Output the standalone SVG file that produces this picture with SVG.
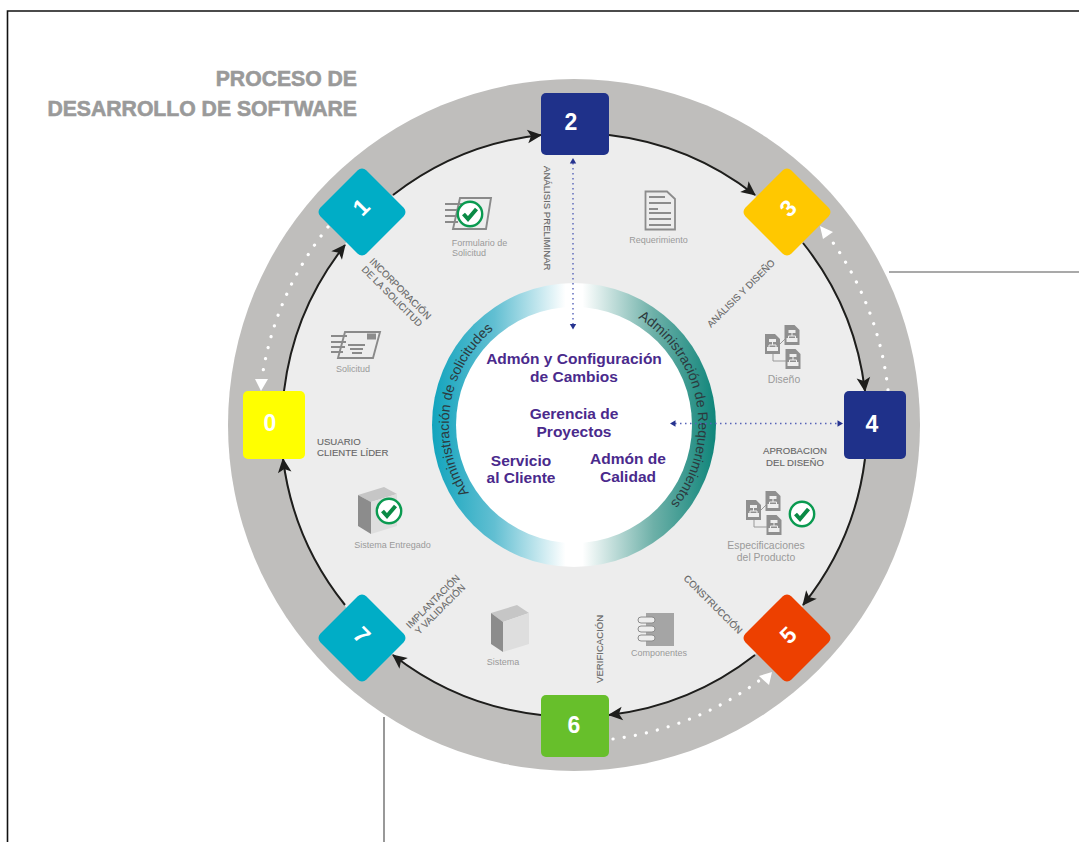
<svg xmlns="http://www.w3.org/2000/svg" width="1079" height="842" viewBox="0 0 1079 842">
<style>
text{font-family:"Liberation Sans",Arial,sans-serif}
.title{font-size:21.2px;font-weight:bold;fill:#9a9a9a;stroke:#9a9a9a;stroke-width:.6;text-anchor:end}
.num{font-size:23px;font-weight:bold;fill:#fff;text-anchor:middle;dominant-baseline:central}
.step{font-size:9.6px;fill:#666;stroke:#666;stroke-width:.12}
.art{font-size:9px;fill:#9a9a9a;text-anchor:middle}
.big{font-size:10.4px}
.core{font-size:15.5px;font-weight:bold;fill:#4a2a8c;text-anchor:middle}
.ringt{font-size:14px;fill:#2c3a3e}
.blk{fill:none;stroke:#1e1e1c;stroke-width:2}
.dot{fill:none;stroke:#fff;stroke-width:3.2;stroke-linecap:round;stroke-dasharray:.1 11.2}
.blue{fill:none;stroke:#5663b8;stroke-width:1.4;stroke-dasharray:1.5 3.5}
.ln{stroke:#555;stroke-width:1.2;fill:none}
.ig{fill:none;stroke:#8a8a8a;stroke-width:1.9}
</style>
<defs>
<linearGradient id="ringg" gradientUnits="userSpaceOnUse" x1="432" y1="0" x2="716" y2="0">
<stop offset="0" stop-color="#12a4bd"/><stop offset=".22" stop-color="#62bfd2"/><stop offset=".47" stop-color="#fff"/><stop offset=".53" stop-color="#fff"/><stop offset=".78" stop-color="#6db0a8"/><stop offset="1" stop-color="#0f857a"/>
</linearGradient>
<marker id="ah" markerUnits="userSpaceOnUse" markerWidth="17" markerHeight="16" viewBox="0 -8 16 16" refX="13.5" refY="0" orient="auto"><path d="M0,-6.8L14.5,0L0,6.8L3.5,0z" fill="#1e1e1c"/></marker>
<path id="bt" d="M0,-3.2L5.5,0L0,3.2z" fill="#26338f"/>
<path id="rpl" d="M469,493A125,125 0 0 1 574,300"/>
<path id="rpr" d="M638,318A125,125 0 0 1 620,541"/>
<g id="check"><circle r="12.2" fill="#fff" stroke="#0a9a50" stroke-width="2.4"/><path d="M-6.5,0L-2,5L6.5,-5" fill="none" stroke="#0a8a45" stroke-width="4"/></g>
<g id="doc"><path d="M0,0H10L15,5V20H0z" fill="#8f8f8f"/><rect x="4" y="5" width="7" height="3" fill="#eee"/><rect x="2" y="13" width="11" height="4" fill="#eee"/><path d="M4,11H11M4,11V13M11,11V13M7.500,8V11" stroke="#eee" fill="none"/></g>
<g id="docs"><use href="#doc" x="0" y="9"/><use href="#doc" x="19.500" y="0"/><use href="#doc" x="20.500" y="24"/><path d="M15,19L20,14M8,29V36H21" fill="none" stroke="#999" stroke-width="1"/></g>
</defs>
<rect width="1079" height="842" fill="#fff"/>
<path d="M7.500,842V11H1079" fill="none" stroke="#111" stroke-width="1.600"/>
<g id="title"><text class="title" x="357" y="86">PROCESO DE</text><text class="title" x="357" y="116">DESARROLLO DE SOFTWARE</text></g>
<g id="wheel">
<circle cx="574" cy="425" r="346" fill="#bfbebc"/>
<circle cx="574" cy="425" r="292" fill="#ededed"/>
<circle cx="574" cy="425" r="142" fill="url(#ringg)"/>
<circle cx="574" cy="425" r="118" fill="#fff"/>
<text class="ringt"><textPath href="#rpl">Administración de solicitudes</textPath></text>
<text class="ringt"><textPath href="#rpr">Administración de Requerimientos</textPath></text>
</g>
<path class="ln" d="M889,272H1079M384,717V842"/>
<g id="connectors">
<path class="blk" marker-end="url(#ah)" d="M284,391A292,292 0 0 1 345,245"/>
<path class="blk" marker-end="url(#ah)" d="M393,195A292,292 0 0 1 541,135"/>
<path class="blk" marker-end="url(#ah)" d="M609,135A292,292 0 0 1 755,195"/>
<path class="blk" marker-end="url(#ah)" d="M803,243A292,292 0 0 1 865,391"/>
<path class="blk" marker-end="url(#ah)" d="M865,459A292,292 0 0 1 803,605"/>
<path class="blk" marker-end="url(#ah)" d="M755,655A292,292 0 0 1 609,715"/>
<path class="blk" marker-end="url(#ah)" d="M541,715A292,292 0 0 1 393,655"/>
<path class="blk" marker-end="url(#ah)" d="M345,605A292,292 0 0 1 283,459"/>
<path class="dot" d="M328,227A316,316 0 0 0 262,378"/><path d="M255,379H268L261,391z" fill="#fff"/>
<path class="dot" d="M888,390A316,316 0 0 0 829,237"/><path d="M820,226L833,232L823,239z" fill="#fff"/>
<path class="dot" d="M613,739A316,316 0 0 0 760,680"/><path d="M772,672L769,685L759,676z" fill="#fff"/>
<path class="blue" d="M573,163V325"/><use href="#bt" transform="translate(573,158) rotate(-90) translate(-5.500 0)"/><use href="#bt" transform="translate(573,329.500) rotate(90) translate(-5.500 0)"/>
<path class="blue" d="M675,423.500H838"/><use href="#bt" transform="translate(670,423.500) rotate(180) translate(-5.500 0)"/><use href="#bt" transform="translate(843,423.500) translate(-5.500 0)"/>
</g>
<g id="node-0"><rect x="243" y="391" width="62" height="68" rx="5" fill="#ffff00"/><text class="num" x="270" y="423">0</text></g>
<g id="node-1"><rect x="329.500" y="179.500" width="65" height="65" rx="6" fill="#00adc6" transform="rotate(45 362 212)"/><text class="num" transform="translate(361 207) rotate(-45)">1</text></g>
<g id="node-2"><rect x="541" y="93" width="68" height="62" rx="5" fill="#1f318a"/><text class="num" x="571" y="122">2</text></g>
<g id="node-3"><rect x="754.500" y="179.500" width="65" height="65" rx="6" fill="#ffc800" transform="rotate(45 787 212)"/><text class="num" transform="translate(788 208) rotate(-45)">3</text></g>
<g id="node-4"><rect x="844" y="391" width="62" height="68" rx="5" fill="#1f318a"/><text class="num" x="872" y="424">4</text></g>
<g id="node-5"><rect x="754.500" y="605.500" width="65" height="65" rx="6" fill="#ed4000" transform="rotate(45 787 638)"/><text class="num" transform="translate(788 635) rotate(-45)">5</text></g>
<g id="node-6"><rect x="541" y="695" width="68" height="62" rx="5" fill="#67bf2b"/><text class="num" x="574" y="725">6</text></g>
<g id="node-7"><rect x="329.500" y="605.500" width="65" height="65" rx="6" fill="#00adc6" transform="rotate(45 362 638)"/><text class="num" transform="translate(362 635) rotate(45)">7</text></g>
<g id="step-labels">
<text class="step" transform="translate(543.500 166) rotate(90)">ANÁLISIS PRELIMINAR</text>
<text class="step" transform="translate(369 262) rotate(45)">INCORPORACIÓN</text>
<text class="step" transform="translate(361 270) rotate(45)">DE LA SOLICITUD</text>
<text class="step" transform="translate(711 328) rotate(-45)">ANÁLISIS Y DISEÑO</text>
<text class="step" x="795" y="454" text-anchor="middle">APROBACION</text>
<text class="step" x="795" y="466" text-anchor="middle">DEL DISEÑO</text>
<text class="step" transform="translate(683 579) rotate(45)">CONSTRUCCIÓN</text>
<text class="step" transform="translate(602.500 683) rotate(-90)">VERIFICACIÓN</text>
<text class="step" transform="translate(410 629) rotate(-45)">IMPLANTACIÓN</text>
<text class="step" transform="translate(419 635) rotate(-45)">Y VALIDACIÓN</text>
<text class="step" x="317" y="445">USUARIO</text>
<text class="step" x="317" y="456">CLIENTE LÍDER</text>
</g>
<g id="art-formulario">
<path class="ig" d="M460,198H491L486,229H453z"/><path class="ig" d="M445,204H462M445,210H461M445,216H460M445,222H458"/><use href="#check" x="470" y="214"/>
<text class="art" x="479.500" y="246">Formulario de</text><text class="art" x="469" y="256">Solicitud</text>
</g>
<g id="art-solicitud">
<path class="ig" d="M345,332H380L373,358H338z"/><path class="ig" d="M331,336H347M331,342H346M331,347H345M331,352H343M348,345H365M350,349H363M352,353H362"/><rect x="367" y="333.500" width="9" height="6" fill="#8c8c8c"/>
<text class="art" x="353" y="372">Solicitud</text>
</g>
<g id="art-requerimiento">
<path d="M645.500,191.500H667L675,199V229.500H645.500z" fill="#ededed" stroke="#8c8c8c" stroke-width="1.800"/>
<path d="M649,197H665M649,203H671M649,209H658M649,213H671M649,219H671M649,225H671" stroke="#8c8c8c" stroke-width="2"/>
<text class="art" x="658.500" y="243">Requerimiento</text>
</g>
<g id="art-diseno"><use href="#docs" x="765" y="325"/><text class="art big" x="784" y="383">Diseño</text></g>
<g id="art-especificaciones"><use href="#docs" x="746" y="491"/><use href="#check" x="802" y="514"/><text class="art big" x="766" y="549">Especificaciones</text><text class="art big" x="766" y="561">del Producto</text></g>
<g id="art-componentes">
<rect x="646" y="613" width="28" height="33" fill="#a5a5a5"/>
<g fill="#ededed" stroke="#8c8c8c"><rect x="638" y="617" width="17" height="6" rx="3"/><rect x="638" y="626" width="17" height="6" rx="3"/><rect x="638" y="635" width="17" height="6" rx="3"/></g>
<text class="art" x="659" y="656">Componentes</text>
</g>
<g id="art-sistema">
<path d="M491,613L517,605L529,613L503,622z" fill="#c6c6c6"/><path d="M491,613L503,622V652L491,644z" fill="#8c8c8c"/><path d="M503,622L529,613V644L503,652z" fill="#dedede"/>
<text class="art" x="503" y="665">Sistema</text>
</g>
<g id="art-entregado">
<path d="M358,495L384,487L397,494L371,502z" fill="#c6c6c6"/><path d="M358,495L371,502V534L358,526z" fill="#8c8c8c"/><path d="M371,502L397,494V526L371,534z" fill="#dedede"/><use href="#check" x="389" y="511"/>
<text class="art" x="392.500" y="548">Sistema Entregado</text>
</g>
<g id="core">
<text class="core" x="574" y="364">Admón y Configuración</text><text class="core" x="574" y="382">de Cambios</text>
<text class="core" x="574" y="419">Gerencia de</text><text class="core" x="574" y="437">Proyectos</text>
<text class="core" x="521" y="466">Servicio</text><text class="core" x="521" y="483">al Cliente</text>
<text class="core" x="628" y="464">Admón de</text><text class="core" x="628" y="482">Calidad</text>
</g>
</svg>
